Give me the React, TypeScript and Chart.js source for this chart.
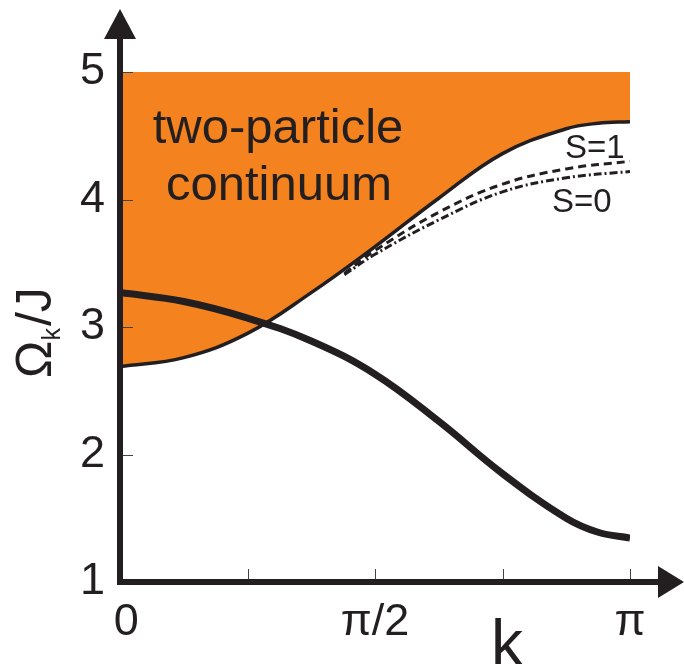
import React, { useEffect, useRef } from 'react';
import { Chart, registerables } from 'chart.js';

Chart.register(...registerables);

// k in units of pi
const kOverPi = [0, 0.125, 0.25, 0.375, 0.5, 0.625, 0.75, 0.875, 0.9375, 1];
const singleBranch = [3.27, 3.2, 3.07, 2.89, 2.63, 2.26, 1.85, 1.5, 1.39, 1.345];
const continuumLower = [2.69, 2.76, 2.95, 3.27, 3.63, 4.01, 4.36, 4.555, 4.598, 4.61];
const boundK = [0.44, 0.5, 0.625, 0.75, 0.875, 1];
const boundS1 = [3.42, 3.6, 3.9, 4.12, 4.24, 4.3];
const boundS0 = [3.41, 3.57, 3.84, 4.06, 4.17, 4.22];
const continuumTop = 5;
const xTickValues = [0, 0.25, 0.5, 0.75, 1];
const xTickLabels = [' 0', '', 'π/2', '', 'π'];
const yTickValues = [1, 2, 3, 4, 5];
const yTickLabels = ['1', '2', '3', '4', '5'];

const INK = '#231F20';
const ORANGE = '#F4821F';
const FONT = '"Liberation Sans", Arial, sans-serif';

const pts = (xs: number[], ys: number[]) => xs.map((x, i) => ({ x, y: ys[i] }));

const decorPlugin = {
  id: 'decor',
  afterDatasetsDraw(chart: any) {
    const ctx = chart.ctx as CanvasRenderingContext2D;
    const xs = chart.scales.x;
    const ys = chart.scales.y;
    const xL = xs.getPixelForValue(0);
    const yB = ys.getPixelForValue(1);
    ctx.save();
    // ticks
    ctx.strokeStyle = '#444';
    ctx.lineWidth = 1;
    yTickValues.slice(1).forEach((v) => {
      const y = Math.round(ys.getPixelForValue(v)) + 0.5;
      ctx.beginPath();
      ctx.moveTo(xL + 3, y);
      ctx.lineTo(xL + 13, y);
      ctx.stroke();
    });
    xTickValues.slice(1).forEach((v) => {
      const x = Math.round(xs.getPixelForValue(v)) + 0.5;
      ctx.beginPath();
      ctx.moveTo(x, yB - 3);
      ctx.lineTo(x, yB - 13);
      ctx.stroke();
    });
    // axes
    ctx.strokeStyle = INK;
    ctx.fillStyle = INK;
    ctx.lineWidth = 6;
    ctx.beginPath();
    ctx.moveTo(xL, yB + 3);
    ctx.lineTo(xL, 36);
    ctx.stroke();
    ctx.beginPath();
    ctx.moveTo(xL - 3, yB);
    ctx.lineTo(660, yB);
    ctx.stroke();
    // arrows
    ctx.beginPath();
    ctx.moveTo(xL, 9);
    ctx.lineTo(xL - 16, 39);
    ctx.lineTo(xL + 16, 39);
    ctx.closePath();
    ctx.fill();
    ctx.beginPath();
    ctx.moveTo(684, yB);
    ctx.lineTo(658, yB - 16);
    ctx.lineTo(658, yB + 16);
    ctx.closePath();
    ctx.fill();
    // texts
    ctx.fillStyle = INK;
    ctx.textBaseline = 'alphabetic';
    ctx.textAlign = 'center';
    ctx.font = `49px ${FONT}`;
    ctx.fillText('two-particle', 278, 143);
    ctx.fillText('continuum', 279, 200);
    ctx.textAlign = 'left';
    ctx.font = `33px ${FONT}`;
    ctx.fillText('S=1', 565, 158);
    ctx.fillText('S=0', 552, 212);
    ctx.textAlign = 'center';
    ctx.font = `64px ${FONT}`;
    ctx.fillText('k', 507, 665);
    // y title
    ctx.translate(51, 378);
    ctx.rotate(-Math.PI / 2);
    ctx.textAlign = 'left';
    ctx.font = `50px ${FONT}`;
    ctx.fillText('Ω', 0, 0);
    const w1 = ctx.measureText('Ω').width;
    ctx.font = `25px ${FONT}`;
    ctx.fillText('k', w1, 9);
    const w2 = ctx.measureText('k').width;
    ctx.font = `50px ${FONT}`;
    ctx.fillText('/J', w1 + w2 + 2, 0);
    ctx.restore();
  },
};

export default function App() {
  const ref = useRef<HTMLCanvasElement>(null);
  useEffect(() => {
    if (!ref.current) return;
    const line = { pointRadius: 0, tension: 0.4, cubicInterpolationMode: 'default', borderColor: INK };
    const chart = new Chart(ref.current, {
      type: 'line',
      data: {
        datasets: [
          { ...line, data: pts(kOverPi, singleBranch), borderWidth: 7, fill: false },
          {
            ...line,
            data: pts(kOverPi, continuumLower),
            borderWidth: 3.5,
            backgroundColor: ORANGE,
            fill: { value: continuumTop },
          },
          { ...line, data: pts(boundK, boundS1), borderWidth: 3, borderDash: [8, 5], fill: false },
          { ...line, data: pts(boundK, boundS0), borderWidth: 3, borderDash: [8, 3, 2, 3], fill: false },
        ],
      } as any,
      options: {
        responsive: false,
        animation: false,
        layout: { padding: { left: 0, right: 54, top: 72, bottom: 0 } },
        plugins: {
          legend: { display: false },
          tooltip: { enabled: false },
          filler: { drawTime: 'beforeDatasetsDraw' },
        } as any,
        scales: {
          x: {
            type: 'linear',
            min: 0,
            max: 1,
            afterBuildTicks: (s: any) => {
              s.ticks = xTickValues.map((v) => ({ value: v }));
            },
            afterFit: (s: any) => {
              s.height = 82;
            },
            ticks: {
              autoSkip: false,
              maxRotation: 0,
              padding: 14,
              color: INK,
              font: { family: FONT, size: 45 },
              callback: (_v: any, i: number) => xTickLabels[i],
            },
            grid: { display: false, drawTicks: false },
            border: { display: false },
          },
          y: {
            type: 'linear',
            min: 1,
            max: 5,
            afterBuildTicks: (s: any) => {
              s.ticks = yTickValues.map((v) => ({ value: v }));
            },
            afterFit: (s: any) => {
              s.width = 120;
            },
            ticks: {
              autoSkip: false,
              padding: 15,
              color: INK,
              font: { family: FONT, size: 45 },
              callback: (_v: any, i: number) => yTickLabels[i],
            },
            grid: { display: false, drawTicks: false },
            border: { display: false },
          },
        } as any,
      },
      plugins: [decorPlugin],
    });
    return () => chart.destroy();
  }, []);
  return (
    <div style={{ position: 'absolute', left: 0, top: 0, width: 684, height: 664, background: '#fff' }}>
      <canvas ref={ref} width={684} height={664} style={{ display: 'block', width: 684, height: 664 }} />
    </div>
  );
}
